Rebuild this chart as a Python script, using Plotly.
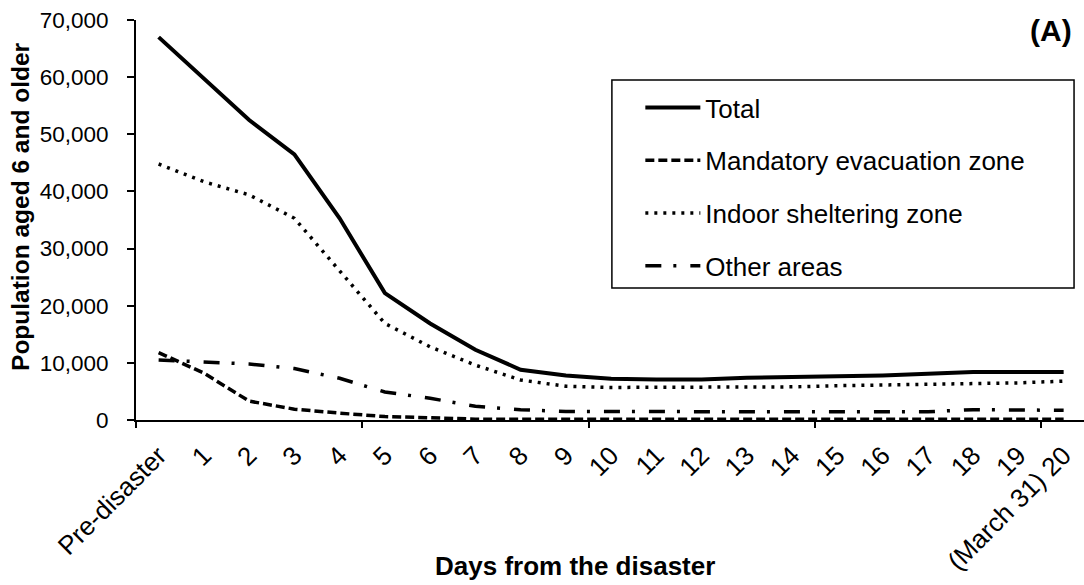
import plotly.graph_objects as go

days = list(range(21))
day_labels = ["Pre-disaster"] + [str(i) for i in range(1, 20)] + ["(March 31) 20"]

total = [67000, 59800, 52500, 46500, 35300, 22200, 16900, 12300, 8800, 7800,
         7200, 7100, 7100, 7400, 7500, 7700, 7800, 8100, 8400, 8400, 8400]
mandatory = [11800, 8200, 3300, 1900, 1200, 600, 400, 150, 150, 150,
             150, 150, 150, 150, 150, 150, 150, 150, 150, 150, 150]
indoor = [44800, 41700, 39400, 35300, 26100, 16900, 12800, 9600, 7000, 5900,
          5700, 5700, 5700, 5800, 5800, 6000, 6100, 6200, 6400, 6500, 6800]
other = [10500, 10100, 9800, 9000, 7300, 4900, 3800, 2400, 1800, 1500,
         1450, 1450, 1450, 1450, 1450, 1450, 1450, 1450, 1800, 1800, 1700]

series = [
    ("Total", total, "solid", 4),
    ("Mandatory evacuation zone", mandatory, "9px,4px", 3.5),
    ("Indoor sheltering zone", indoor, "3px,6px", 3.5),
    ("Other areas", other, "16px,12px,3px,14px", 3.5),
]

FONT = "Liberation Sans, Arial, sans-serif"

fig = go.Figure()
for i, (name, vals, dash, w) in enumerate(series):
    fig.add_trace(go.Scatter(
        x=days, y=vals, mode="lines", name=name, legendgroup=f"g{i}",
        line=dict(color="black", width=w, dash=dash),
    ))

xr = [-0.5, 20.45]
fig.update_layout(
    width=1084, height=585,
    margin=dict(l=136, r=0, t=20, b=165),
    paper_bgcolor="white", plot_bgcolor="white",
    font=dict(family=FONT, color="black"),
    showlegend=True,
    legend=dict(
        x=0.532, y=0.84, xanchor="left", yanchor="top",
        font=dict(size=26, family=FONT, color="black"),
        tracegroupgap=16, itemwidth=55, bgcolor="rgba(0,0,0,0)",
    ),
    xaxis=dict(
        range=xr, tickmode="array", tickvals=days, ticktext=day_labels,
        tickangle=-45, ticks="", showline=True, linecolor="black", linewidth=2,
        showgrid=False, zeroline=False, tickfont=dict(size=26, family=FONT),
        ticklabelstandoff=8,
    ),
    xaxis2=dict(
        range=xr, overlaying="x", side="bottom", tickmode="array",
        tickvals=[-0.5, 4.5, 9.5, 14.5, 19.5], ticks="outside", ticklen=7,
        tickwidth=2, tickcolor="black", showticklabels=False, showgrid=False,
        zeroline=False, showline=False,
    ),
    yaxis=dict(
        range=[0, 70000], tickmode="array",
        tickvals=[0, 10000, 20000, 30000, 40000, 50000, 60000, 70000],
        tickformat=",", ticks="outside", ticklen=7, tickwidth=2,
        tickcolor="black", showline=True, linecolor="black", linewidth=2,
        showgrid=False, zeroline=False, tickfont=dict(size=22.5, family=FONT),
        ticklabelstandoff=14,
    ),
    shapes=[dict(type="rect", xref="paper", yref="paper",
                 x0=0.502, x1=0.9895, y0=0.33, y1=0.85,
                 line=dict(color="black", width=1.5))],
    annotations=[
        dict(text="<b>Days from the disaster</b>", xref="paper", yref="paper",
             x=0.463, y=-0.365, xanchor="center", yanchor="middle",
             showarrow=False, font=dict(size=26, family=FONT)),
        dict(text="<b>Population aged 6 and older</b>", xref="paper", yref="paper",
             x=-0.1224, y=0.535, xanchor="center", yanchor="middle", textangle=-90,
             showarrow=False, font=dict(size=24.5, family=FONT)),
        dict(text="<b>(A)</b>", xref="paper", yref="paper",
             x=0.989, y=0.9725, xanchor="right", yanchor="middle",
             showarrow=False, font=dict(size=30, family=FONT)),
    ],
)
# invisible trace on xaxis2 so the overlay axis with boundary ticks is drawn
fig.add_trace(go.Scatter(x=[0], y=[0], xaxis="x2", mode="markers",
                         marker=dict(opacity=0), showlegend=False, hoverinfo="skip"))

fig.write_html("out.html")
